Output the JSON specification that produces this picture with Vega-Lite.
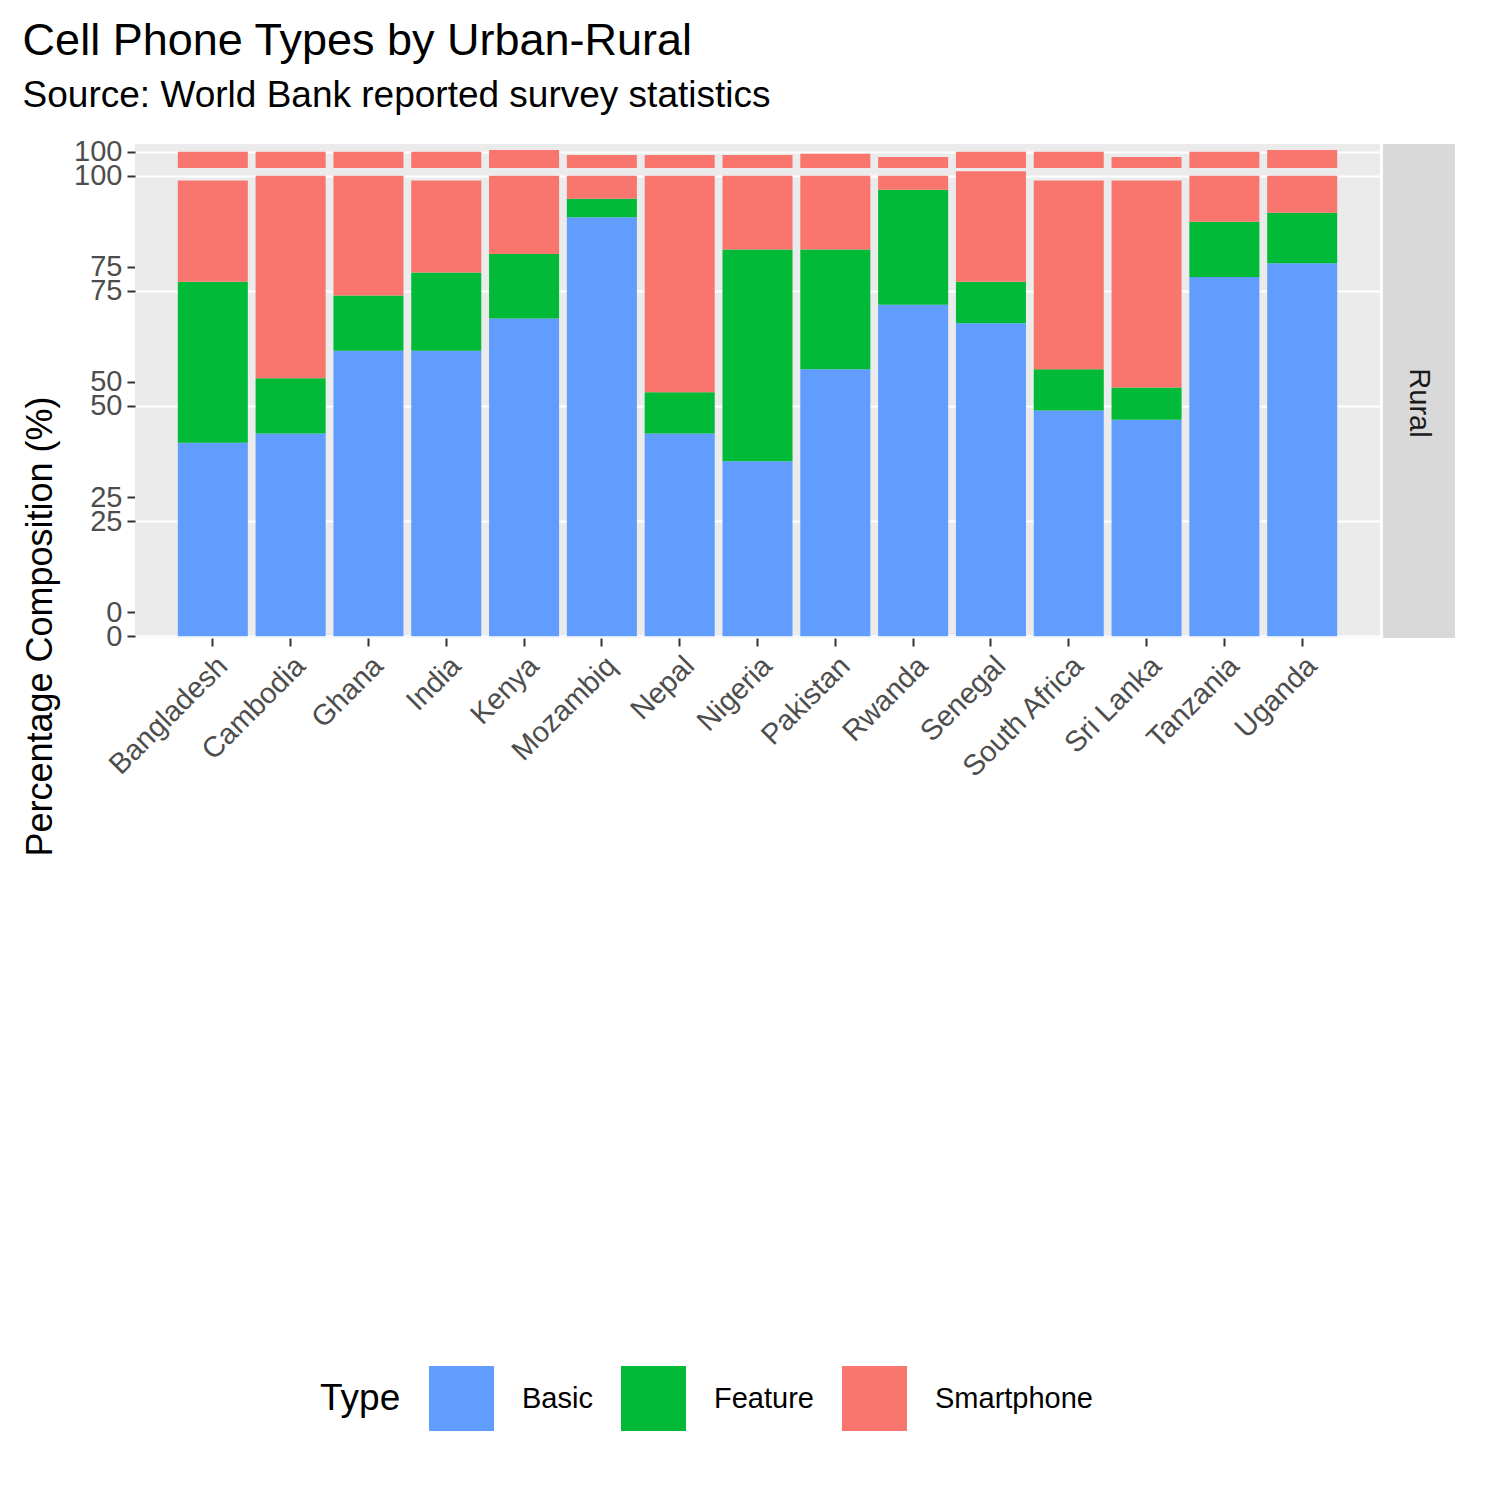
{
  "$schema": "https://vega.github.io/schema/vega-lite/v6.json",
  "background": "white",
  "padding": {"left": 22, "top": 18, "right": 10, "bottom": 10},
  "bounds": "flush",
  "spacing": 24,
  "title": {
    "text": "Cell Phone Types by Urban-Rural",
    "subtitle": "Source: World Bank reported survey statistics",
    "anchor": "start",
    "fontSize": 45,
    "subtitleFontSize": 37,
    "fontWeight": "normal",
    "font": "Liberation Sans",
    "subtitleFont": "Liberation Sans",
    "subtitleColor": "black",
    "subtitlePadding": 14,
    "offset": 24,
    "dx": 0
  },
  "config": {
    "font": "Liberation Sans",
    "view": {"fill": "#ebebeb", "stroke": null},
    "axis": {
      "domain": false,
      "gridColor": "white",
      "gridWidth": 2,
      "tickColor": "#333333",
      "tickSize": 8,
      "tickWidth": 2,
      "labelColor": "#4d4d4d",
      "labelFontSize": 29,
      "titleFontSize": 36,
      "titleFontWeight": "normal",
      "labelPadding": 5
    },
    "legend": {
      "orient": "none",
      "legendX": 185,
      "legendY": 1222,
      "direction": "horizontal",
      "titleOrient": "left",
      "titleFontSize": 37,
      "titleFontWeight": "normal",
      "titlePadding": 28,
      "labelFontSize": 29,
      "symbolType": "square",
      "symbolSize": 4225,
      "symbolStrokeWidth": 0,
      "symbolOpacity": 1,
      "labelOffset": 28,
      "columnPadding": 28
    }
  },
  "data": {
    "values": [
      {"country": "Bangladesh", "area": "Urban", "type": "Basic", "value": 33},
      {"country": "Bangladesh", "area": "Urban", "type": "Feature", "value": 40},
      {"country": "Bangladesh", "area": "Urban", "type": "Smartphone", "value": 27},
      {"country": "Cambodia", "area": "Urban", "type": "Basic", "value": 35},
      {"country": "Cambodia", "area": "Urban", "type": "Feature", "value": 5},
      {"country": "Cambodia", "area": "Urban", "type": "Smartphone", "value": 60},
      {"country": "Ghana", "area": "Urban", "type": "Basic", "value": 47},
      {"country": "Ghana", "area": "Urban", "type": "Feature", "value": 14},
      {"country": "Ghana", "area": "Urban", "type": "Smartphone", "value": 39},
      {"country": "India", "area": "Urban", "type": "Basic", "value": 45},
      {"country": "India", "area": "Urban", "type": "Feature", "value": 15},
      {"country": "India", "area": "Urban", "type": "Smartphone", "value": 40},
      {"country": "Kenya", "area": "Urban", "type": "Basic", "value": 32.4},
      {"country": "Kenya", "area": "Urban", "type": "Feature", "value": 13},
      {"country": "Kenya", "area": "Urban", "type": "Smartphone", "value": 55},
      {"country": "Mozambiq", "area": "Urban", "type": "Basic", "value": 61.3},
      {"country": "Mozambiq", "area": "Urban", "type": "Feature", "value": 7},
      {"country": "Mozambiq", "area": "Urban", "type": "Smartphone", "value": 31},
      {"country": "Nepal", "area": "Urban", "type": "Basic", "value": 37.2},
      {"country": "Nepal", "area": "Urban", "type": "Feature", "value": 8},
      {"country": "Nepal", "area": "Urban", "type": "Smartphone", "value": 54.1},
      {"country": "Nigeria", "area": "Urban", "type": "Basic", "value": 26.1},
      {"country": "Nigeria", "area": "Urban", "type": "Feature", "value": 43.2},
      {"country": "Nigeria", "area": "Urban", "type": "Smartphone", "value": 30},
      {"country": "Pakistan", "area": "Urban", "type": "Basic", "value": 43.5},
      {"country": "Pakistan", "area": "Urban", "type": "Feature", "value": 23},
      {"country": "Pakistan", "area": "Urban", "type": "Smartphone", "value": 33.1},
      {"country": "Rwanda", "area": "Urban", "type": "Basic", "value": 50.9},
      {"country": "Rwanda", "area": "Urban", "type": "Feature", "value": 23},
      {"country": "Rwanda", "area": "Urban", "type": "Smartphone", "value": 25},
      {"country": "Senegal", "area": "Urban", "type": "Basic", "value": 50},
      {"country": "Senegal", "area": "Urban", "type": "Feature", "value": 13.9},
      {"country": "Senegal", "area": "Urban", "type": "Smartphone", "value": 36.1},
      {"country": "South Africa", "area": "Urban", "type": "Basic", "value": 28.9},
      {"country": "South Africa", "area": "Urban", "type": "Feature", "value": 8.1},
      {"country": "South Africa", "area": "Urban", "type": "Smartphone", "value": 63},
      {"country": "Sri Lanka", "area": "Urban", "type": "Basic", "value": 40},
      {"country": "Sri Lanka", "area": "Urban", "type": "Feature", "value": 5.9},
      {"country": "Sri Lanka", "area": "Urban", "type": "Smartphone", "value": 53},
      {"country": "Tanzania", "area": "Urban", "type": "Basic", "value": 52},
      {"country": "Tanzania", "area": "Urban", "type": "Feature", "value": 8.9},
      {"country": "Tanzania", "area": "Urban", "type": "Smartphone", "value": 39.1},
      {"country": "Uganda", "area": "Urban", "type": "Basic", "value": 49.3},
      {"country": "Uganda", "area": "Urban", "type": "Feature", "value": 15},
      {"country": "Uganda", "area": "Urban", "type": "Smartphone", "value": 36.1},
      {"country": "Bangladesh", "area": "Rural", "type": "Basic", "value": 42},
      {"country": "Bangladesh", "area": "Rural", "type": "Feature", "value": 35},
      {"country": "Bangladesh", "area": "Rural", "type": "Smartphone", "value": 22},
      {"country": "Cambodia", "area": "Rural", "type": "Basic", "value": 44},
      {"country": "Cambodia", "area": "Rural", "type": "Feature", "value": 12},
      {"country": "Cambodia", "area": "Rural", "type": "Smartphone", "value": 44},
      {"country": "Ghana", "area": "Rural", "type": "Basic", "value": 62},
      {"country": "Ghana", "area": "Rural", "type": "Feature", "value": 12},
      {"country": "Ghana", "area": "Rural", "type": "Smartphone", "value": 26},
      {"country": "India", "area": "Rural", "type": "Basic", "value": 62},
      {"country": "India", "area": "Rural", "type": "Feature", "value": 17},
      {"country": "India", "area": "Rural", "type": "Smartphone", "value": 20},
      {"country": "Kenya", "area": "Rural", "type": "Basic", "value": 69},
      {"country": "Kenya", "area": "Rural", "type": "Feature", "value": 14},
      {"country": "Kenya", "area": "Rural", "type": "Smartphone", "value": 17},
      {"country": "Mozambiq", "area": "Rural", "type": "Basic", "value": 91},
      {"country": "Mozambiq", "area": "Rural", "type": "Feature", "value": 4},
      {"country": "Mozambiq", "area": "Rural", "type": "Smartphone", "value": 5},
      {"country": "Nepal", "area": "Rural", "type": "Basic", "value": 44},
      {"country": "Nepal", "area": "Rural", "type": "Feature", "value": 9},
      {"country": "Nepal", "area": "Rural", "type": "Smartphone", "value": 47},
      {"country": "Nigeria", "area": "Rural", "type": "Basic", "value": 38},
      {"country": "Nigeria", "area": "Rural", "type": "Feature", "value": 46},
      {"country": "Nigeria", "area": "Rural", "type": "Smartphone", "value": 16},
      {"country": "Pakistan", "area": "Rural", "type": "Basic", "value": 58},
      {"country": "Pakistan", "area": "Rural", "type": "Feature", "value": 26},
      {"country": "Pakistan", "area": "Rural", "type": "Smartphone", "value": 16},
      {"country": "Rwanda", "area": "Rural", "type": "Basic", "value": 72},
      {"country": "Rwanda", "area": "Rural", "type": "Feature", "value": 25},
      {"country": "Rwanda", "area": "Rural", "type": "Smartphone", "value": 3},
      {"country": "Senegal", "area": "Rural", "type": "Basic", "value": 68},
      {"country": "Senegal", "area": "Rural", "type": "Feature", "value": 9},
      {"country": "Senegal", "area": "Rural", "type": "Smartphone", "value": 24},
      {"country": "South Africa", "area": "Rural", "type": "Basic", "value": 49},
      {"country": "South Africa", "area": "Rural", "type": "Feature", "value": 9},
      {"country": "South Africa", "area": "Rural", "type": "Smartphone", "value": 41},
      {"country": "Sri Lanka", "area": "Rural", "type": "Basic", "value": 47},
      {"country": "Sri Lanka", "area": "Rural", "type": "Feature", "value": 7},
      {"country": "Sri Lanka", "area": "Rural", "type": "Smartphone", "value": 45},
      {"country": "Tanzania", "area": "Rural", "type": "Basic", "value": 78},
      {"country": "Tanzania", "area": "Rural", "type": "Feature", "value": 12},
      {"country": "Tanzania", "area": "Rural", "type": "Smartphone", "value": 10},
      {"country": "Uganda", "area": "Rural", "type": "Basic", "value": 81},
      {"country": "Uganda", "area": "Rural", "type": "Feature", "value": 11},
      {"country": "Uganda", "area": "Rural", "type": "Smartphone", "value": 8}
    ]
  },
  "vconcat": [
    {
      "hconcat": [
        {
          "width": 1245,
          "height": 470,
          "transform": [{"filter": "datum.area === 'Urban'"}],
          "mark": {"type": "bar"},
          "encoding": {
            "x": {
              "field": "country", "type": "nominal", "sort": null,
              "scale": {"paddingInner": 0.1, "paddingOuter": 0.55},
              "axis": {"labels": false, "ticks": false, "title": null, "grid": false}
            },
            "y": {
              "field": "value", "type": "quantitative", "stack": "zero",
              "scale": {"domain": [-0.4, 101.7], "nice": false, "zero": false},
              "axis": {"values": [0, 25, 50, 75, 100], "title": "Percentage Composition (%)", "titleY": 482, "titlePadding": 14}
            },
            "color": {
              "field": "type", "type": "nominal", "title": "Type",
              "scale": {"domain": ["Basic", "Feature", "Smartphone"], "range": ["#619CFF", "#00BA38", "#F8766D"]}
            },
            "order": {"field": "type", "sort": "ascending"}
          }
        },
        {
          "width": 72,
          "height": 470,
          "view": {"fill": "#d9d9d9", "stroke": null},
          "data": {"values": [{"label": "Urban"}]},
          "mark": {"type": "text", "angle": 90, "fontSize": 29, "color": "#1a1a1a"},
          "encoding": {"text": {"field": "label"}}
        }
      ],
      "spacing": 3
    },
    {
      "hconcat": [
        {
          "width": 1245,
          "height": 470,
          "transform": [{"filter": "datum.area === 'Rural'"}],
          "mark": {"type": "bar"},
          "encoding": {
            "x": {
              "field": "country", "type": "nominal", "sort": null,
              "scale": {"paddingInner": 0.1, "paddingOuter": 0.55},
              "axis": {"labelAngle": -45, "labelAlign": "right", "labelBaseline": "top", "title": null, "grid": false}
            },
            "y": {
              "field": "value", "type": "quantitative", "stack": "zero",
              "scale": {"domain": [-0.4, 101.7], "nice": false, "zero": false},
              "axis": {"values": [0, 25, 50, 75, 100], "title": null}
            },
            "color": {
              "field": "type", "type": "nominal", "title": "Type",
              "scale": {"domain": ["Basic", "Feature", "Smartphone"], "range": ["#619CFF", "#00BA38", "#F8766D"]}
            },
            "order": {"field": "type", "sort": "ascending"}
          }
        },
        {
          "width": 72,
          "height": 470,
          "view": {"fill": "#d9d9d9", "stroke": null},
          "data": {"values": [{"label": "Rural"}]},
          "mark": {"type": "text", "angle": 90, "fontSize": 29, "color": "#1a1a1a"},
          "encoding": {"text": {"field": "label"}}
        }
      ],
      "spacing": 3
    }
  ]
}
